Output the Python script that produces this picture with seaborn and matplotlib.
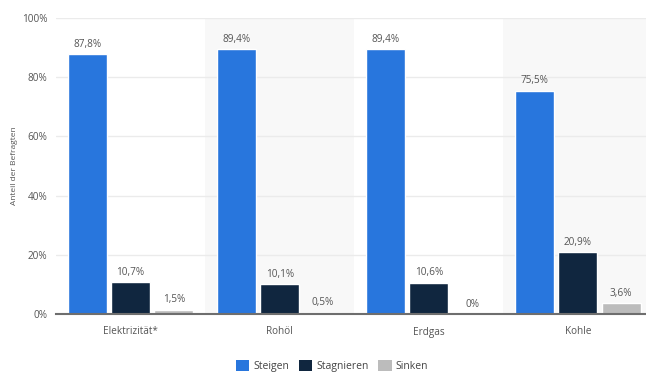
import pandas as pd
import matplotlib
matplotlib.use("Agg")
import matplotlib.pyplot as plt
from matplotlib.patches import Patch
import seaborn as sns

categories = ["Elektrizität*", "Rohöl", "Erdgas", "Kohle"]
series = ["Steigen", "Stagnieren", "Sinken"]
steigen = [87.8, 89.4, 89.4, 75.5]
stagnieren = [10.7, 10.1, 10.6, 20.9]
sinken = [1.5, 0.5, 0.0, 3.6]
colors = ["#2876dd", "#10263f", "#bcbcbc"]

df = pd.DataFrame({
    "cat": categories * 3,
    "series": [s for s in series for _ in categories],
    "value": steigen + stagnieren + sinken,
})

sns.set_theme(style="white")
plt.rcParams["font.family"] = ["Open Sans", "DejaVu Sans"]

fig = plt.figure(figsize=(6.46, 3.74), dpi=100)
ax = fig.add_axes([56 / 646, 60 / 374, 592 / 646, 296 / 374])

# alternating band shading
for i in range(len(categories)):
    if i % 2 == 1:
        ax.axvspan(i - 0.5, i + 0.5, color="#f8f8f8", zorder=0, lw=0)

sns.barplot(data=df, x="cat", y="value", hue="series", order=categories,
            hue_order=series, palette=colors, width=0.87, gap=0.1,
            saturation=1, legend=False, ax=ax, zorder=3)

for cont in ax.containers:
    labels = []
    for v in cont.datavalues:
        labels.append("0%" if v == 0 else f"{v:.1f}".replace(".", ",") + "%")
    ax.bar_label(cont, labels=labels, padding=3, fontsize=7.2, color="#555555")

ax.set_ylim(0, 100)
ax.set_xlim(-0.5, 3.47)
ax.set_yticks([0, 20, 40, 60, 80, 100])
ax.set_yticklabels([f"{t}%" for t in range(0, 101, 20)])
ax.yaxis.grid(True, color="#ebebeb", lw=1, zorder=1)
ax.set_axisbelow(True)
ax.tick_params(axis="both", length=0, labelsize=7.2, labelcolor="#555555")
ax.tick_params(axis="y", pad=6)
ax.tick_params(axis="x", pad=9)
for s in ["top", "right", "left"]:
    ax.spines[s].set_visible(False)
ax.spines["bottom"].set_color("#6e6e6e")
ax.spines["bottom"].set_linewidth(1.5)
ax.spines["bottom"].set_zorder(5)
ax.set_xlabel("")
ax.set_ylabel("Anteil der Befragten", fontsize=6, color="#555555", labelpad=3)

handles = [Patch(facecolor=c, edgecolor="none", label=s) for c, s in zip(colors, series)]
fig.legend(handles=handles, loc="center", bbox_to_anchor=(0.514, 0.022), ncol=3,
           frameon=False, fontsize=7.5, handlelength=1.3, handleheight=1.3,
           handletextpad=0.4, columnspacing=0.9, labelcolor="#444444",
           borderpad=0.1)

fig.savefig("out.png", dpi=100)
